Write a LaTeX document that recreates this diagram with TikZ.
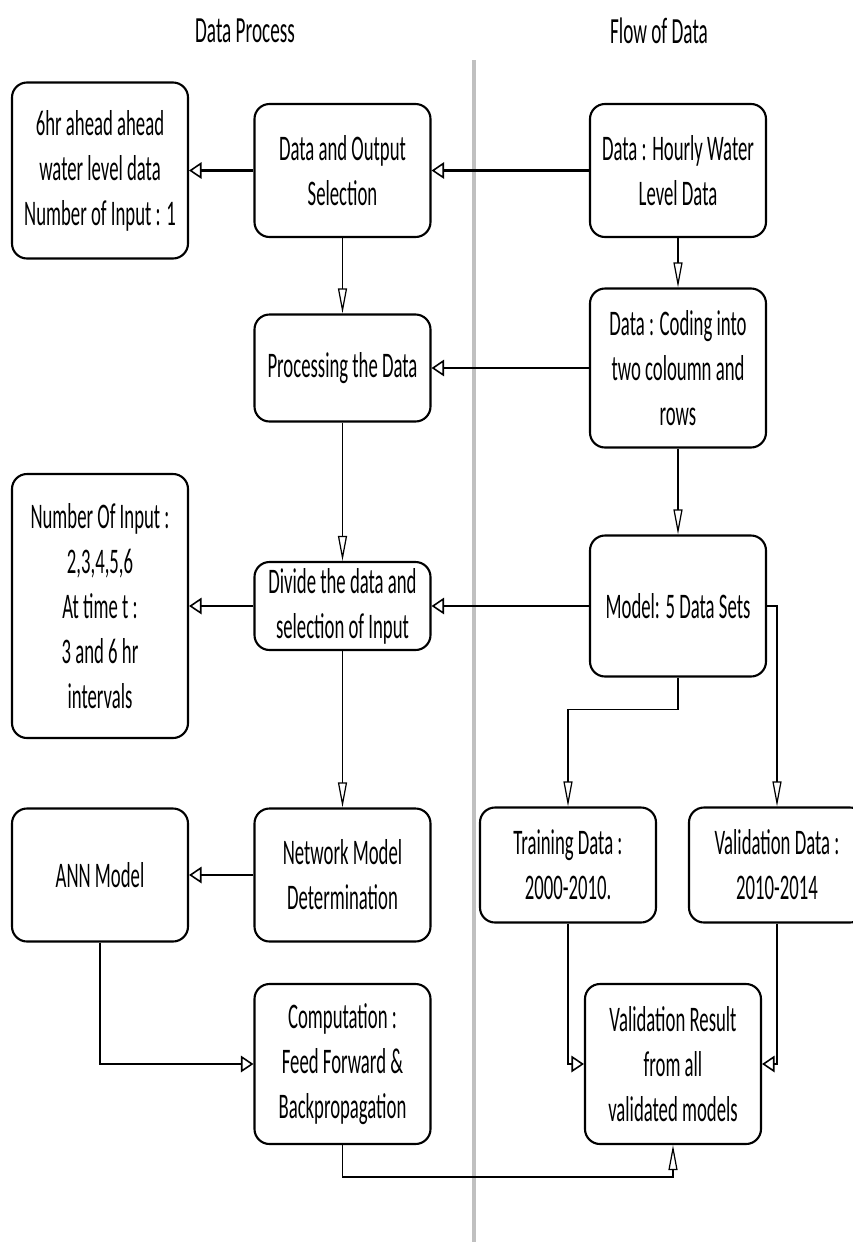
\documentclass[tikz,border=0pt]{standalone}
\usepackage{fontspec}
\setmainfont{Carlito}[FakeStretch=0.52]
\usetikzlibrary{arrows.meta,positioning}
\definecolor{lanegray}{RGB}{192,192,192}

\begin{document}
\begin{tikzpicture}[-,node distance=4.85cm,
  box node/.style={rectangle,draw,rounded corners=0.3cm,line width=1.2pt,minimum width=3.52cm,align=center,inner sep=2pt,font=\fontsize{20.5}{25.6}\selectfont},
  title node/.style={font=\fontsize{21}{25}\selectfont},
  h arrow/.style={-{Triangle[open,length=0.25cm,width=0.33cm,line width=0.9pt]},line width=1.4pt},
  v arrow/.style={-{Triangle[open,length=0.5cm,width=0.18cm,line width=0.7pt]},line width=0.7pt},
  bend arrow/.style={line width=1pt}]

    \useasboundingbox (0,0) rectangle (17.06,-24.84);
    \draw[lanegray,line width=2.6pt] (9.48,-1.2) -- (9.48,-24.84);

    \node[title node] (t1) at (4.9,-0.62) {Data Process};
    \node[title node] (t2) at (13.18,-0.62) {Flow of Data};

    \node[box node, minimum height=2.66cm] (1) at (6.85,-3.41) {Data and Output\\Selection};
    \node[box node, minimum height=2.66cm] (2) [right of = 1, node distance=6.71cm] {Data : Hourly Water\\Level Data};
    \node[box node, minimum height=3.52cm] (3) [left of = 1] {6hr ahead ahead\\water level data\\Number of Input : 1};
    \node[box node, minimum height=2.14cm] (4) [below of = 1, node distance=3.95cm] {Processing the Data};
    \node[box node, minimum height=3.18cm] (5) [below of = 2, node distance=3.95cm] {Data : Coding into\\two coloumn and\\rows};
    \node[box node, minimum height=1.76cm] (6) [below of = 4, node distance=4.76cm] {Divide the data and\\selection of Input};
    \node[box node, minimum height=2.82cm] (7) [below of = 5, node distance=4.76cm] {Model: 5 Data Sets};
    \node[box node, minimum height=5.28cm] (8) [left of = 6] {Number Of Input :\\2,3,4,5,6\\At time t :\\3 and 6 hr\\intervals};
    \node[box node, minimum height=2.66cm] (9) [below of = 6, node distance=5.38cm] {Network Model\\Determination};
    \node[box node, minimum height=2.66cm] (10) [left of = 9] {ANN Model};
    \node[box node, minimum height=2.3cm] (11) at (11.36,-17.3) {Training Data :\\2000-2010.};
    \node[box node, minimum height=2.3cm] (12) at (15.54,-17.3) {Validation Data :\\2010-2014};
    \node[box node, minimum height=3.2cm] (13) [below of = 9, node distance=3.78cm] {Computation :\\Feed Forward \&\\Backpropagation};
    \node[box node, minimum height=3.2cm] (14) at (13.46,-21.28) {Validation Result\\from all\\validated models};

    \draw[h arrow] (2) to (1);
    \draw[h arrow] (1) to (3);
    \draw[v arrow] (1) to (4);
    \draw[v arrow] (2) to (5);
    \draw[h arrow] (5) to (4);
    \draw[v arrow] (4) to (6);
    \draw[v arrow] (5) to (7);
    \draw[h arrow] (7) to (6);
    \draw[h arrow] (6) to (8);
    \draw[v arrow] (6) to (9);
    \draw[h arrow] (9) to (10);
    \draw[v arrow, bend arrow] (7.south) -- ++(0,-0.64) -| (11.north);
    \draw[v arrow, bend arrow] (7.east) -| (12.north);
    \draw[h arrow, bend arrow] (10.south) |- (13.west);
    \draw[h arrow, bend arrow] (11.south) |- (14.west);
    \draw[h arrow, bend arrow] (12.south) |- (14.east);
    \draw[v arrow, bend arrow] (13.south) -- ++(0,-0.64) -| (14.south);

\end{tikzpicture}
\end{document}
